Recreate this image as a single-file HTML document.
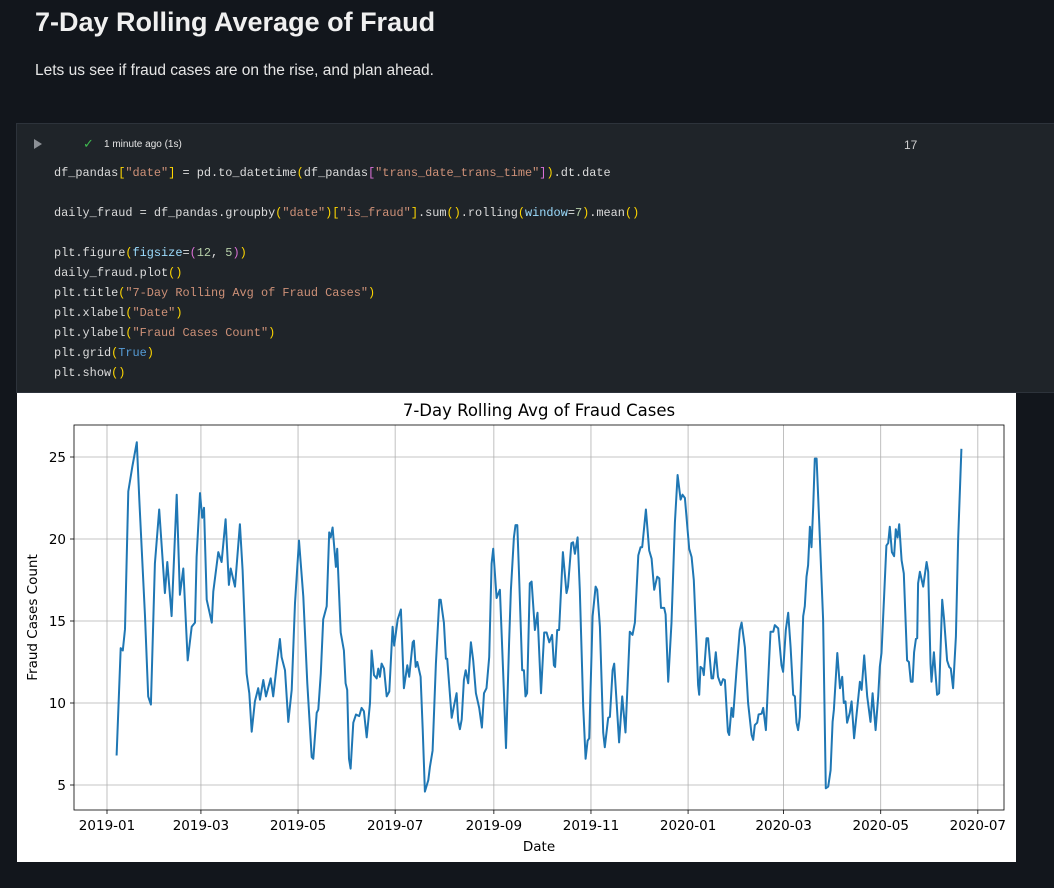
<!DOCTYPE html>
<html><head><meta charset="utf-8">
<style>
body{margin:0;width:1054px;height:888px;background:#12161c;overflow:hidden;font-family:"Liberation Sans",sans-serif;position:relative}
.h1{position:absolute;left:35px;top:7px;color:#f0f0f0;font-size:27px;font-weight:bold}
.sub{position:absolute;left:35px;top:62px;color:#e6e6e6;font-size:15.5px}
.cell{position:absolute;left:16px;top:123px;width:1040px;height:270px;background:#1f2429;border:1px solid #2d333b;box-sizing:border-box}
.code{position:absolute;left:54px;font-family:"Liberation Mono",monospace;font-size:11.9px;color:#dcdcdc;white-space:pre}
.s{color:#ce9178}.b{color:#ffd700}.p{color:#da70d6}.k{color:#569cd6}.f{color:#dcdcaa}.n{color:#9cdcfe}.num{color:#b5cea8}
.chartbox{position:absolute;left:17px;top:393px;width:999px;height:469px;background:#fff}
</style></head><body>
<div class="h1">7-Day Rolling Average of Fraud</div>
<div class="sub">Lets us see if fraud cases are on the rise, and plan ahead.</div>
<div class="cell">
  <div style="position:absolute;left:17px;top:15px;width:0;height:0;border-left:8px solid #8b8f95;border-top:5px solid transparent;border-bottom:5px solid transparent"></div>
  <div style="position:absolute;left:66px;top:12px;color:#3fb950;font-size:13px">✓</div>
  <div style="position:absolute;left:87px;top:15px;color:#e6e6e6;font-size:10px">1 minute ago (1s)</div>
  <div style="position:absolute;left:887px;top:14px;color:#cfcfcf;font-size:12px">17</div>
</div>
<div>
<div class="code" style="top:166px">df_pandas<span class="b">[</span><span class="s">"date"</span><span class="b">]</span> = pd.to_datetime<span class="b">(</span>df_pandas<span class="p">[</span><span class="s">"trans_date_trans_time"</span><span class="p">]</span><span class="b">)</span>.dt.date</div>
<div class="code" style="top:206px">daily_fraud = df_pandas.groupby<span class="b">(</span><span class="s">"date"</span><span class="b">)[</span><span class="s">"is_fraud"</span><span class="b">]</span>.sum<span class="b">()</span>.rolling<span class="b">(</span><span class="n">window</span>=<span class="num">7</span><span class="b">)</span>.mean<span class="b">()</span></div>
<div class="code" style="top:246px">plt.figure<span class="b">(</span><span class="n">figsize</span>=<span class="p">(</span><span class="num">12</span>, <span class="num">5</span><span class="p">)</span><span class="b">)</span></div>
<div class="code" style="top:266px">daily_fraud.plot<span class="b">()</span></div>
<div class="code" style="top:286px">plt.title<span class="b">(</span><span class="s">"7-Day Rolling Avg of Fraud Cases"</span><span class="b">)</span></div>
<div class="code" style="top:306px">plt.xlabel<span class="b">(</span><span class="s">"Date"</span><span class="b">)</span></div>
<div class="code" style="top:326px">plt.ylabel<span class="b">(</span><span class="s">"Fraud Cases Count"</span><span class="b">)</span></div>
<div class="code" style="top:346px">plt.grid<span class="b">(</span><span class="k">True</span><span class="b">)</span></div>
<div class="code" style="top:366px">plt.show<span class="b">()</span></div>
</div>
<div class="chartbox"></div>
<svg id="chart" width="1054" height="888" style="position:absolute;left:0;top:0"></svg>
<script>
const days=[6,8.6,9.9,11.3,13.4,15.9,18.7,20.3,23.9,25.9,27.6,30.1,32.8,36.4,37.9,40.6,43.8,45.8,47.9,50.7,53.2,55.3,56.3,58.4,59.8,60.9,62.6,65.8,66.8,69.9,72,74.5,76.6,77.7,80.4,83.5,85.2,87.7,89.4,90.9,92.9,95,96.1,98.2,99.9,102.8,104.4,107,108.6,109.7,111.8,113.9,116,118.1,120.6,123.3,125.8,128.6,129.6,131.7,132.7,134.3,135.8,138,139.6,140.5,141.7,143.8,144.6,146.8,148.8,149.9,150.9,152,153,154.7,156.4,158.4,159.9,161.4,163.1,165.2,166.2,167.7,169.4,170.4,171.4,172.5,174,175.7,177.3,179.4,180.4,182.6,184.6,186.5,188.6,189.8,192,192.8,193.9,194.9,197,198.3,199.7,201.8,202.8,204.5,206.6,208.7,209.6,211.6,212.9,213.7,216.5,217.9,219.6,220.6,221.7,222.8,224.2,225.3,226.9,228.6,230,231.7,233.8,235.5,236.8,238.4,240.1,241.6,242.6,244.7,246.8,248.9,250.6,252.6,253.7,255.6,256.6,257.7,258.7,260.8,261.9,262.9,263.9,265.6,266.7,268.8,270.4,272.6,274.6,276.1,277.8,279.6,280.7,281.5,282.8,284,286.4,288.6,289.6,291.7,292.8,293.9,295.6,297,299.1,300.6,301.9,302.9,305,306.9,307.9,309.6,311.7,312.7,314.8,315.9,317.6,318.6,321.7,323.6,325.7,328.4,330.1,331.6,333.7,335.2,336.2,338.5,340.6,342.1,343.7,345.6,346.9,348,350,350.9,352.5,354.6,356.7,358.4,360.3,361.5,363,365.7,367.2,368.6,370.3,371.3,372,372.8,374.1,374.9,376.6,377.6,379.7,380.7,382.4,383.8,385.6,387,388.1,390,390.8,392.3,393.3,395.4,397.5,398.6,400.7,402.7,404.9,405.9,406.9,408.4,409.3,411.2,412.2,413.9,415.3,416.8,418.5,419.5,421.6,423.7,424.7,426.4,427.9,429.4,431,432.1,433.1,434.1,435.2,437.3,438.3,439.4,440.4,441.5,442.5,443.6,444.6,445.7,447.3,449.8,451.5,453,454.5,455.8,456.6,458.7,460.4,461.8,462.8,463.9,464.9,466.6,467.7,469.3,471.8,472.9,474,475.6,477.5,479.6,480.9,482.8,484.4,485.4,486.5,488.1,489.6,490.7,491.7,493,494.4,495.5,496.6,497.6,499.1,500.5,502.6,503.7,504.9,506,507,508.1,508.9,509.5,510.6,512.7,514.8,515.8,517.3,517.9,519.4,521.4,522.7,524.6,525.8,527.7,529,530,531.5,533.2,534.6,536.7];
const fraudAvg=[6.8,13.35,13.2,14.5,22.9,24.4,25.9,22.4,15.3,10.4,9.9,18.5,21.8,16.7,18.6,15.3,22.7,16.6,18.2,12.6,14.65,14.9,18.9,22.8,21.3,21.9,16.3,14.9,16.8,19.2,18.6,21.2,17.2,18.2,17.1,20.9,18.1,11.8,10.6,8.25,10.1,10.9,10.2,11.4,10.4,11.5,10.4,12.6,13.9,12.8,12,8.85,10.8,16.1,19.9,16.5,11.2,6.7,6.6,9.4,9.6,11.8,15.1,15.9,20.4,20.1,20.7,18.3,19.4,14.3,13.2,11.2,10.8,6.6,6,8.8,9.3,9.2,9.7,9.5,7.9,10,13.2,11.7,11.5,12.1,11.6,12.4,12.1,10.4,10.7,14.65,13.5,15.1,15.7,10.9,12.3,11.6,13.7,13.8,12.2,12.5,11.6,8.4,4.6,5.3,6.1,7.1,12.4,16.3,16.3,14.9,12.7,12.7,9.1,9.8,10.6,8.9,8.4,9,11.4,12,11.2,13.7,12.6,10.6,9.7,8.5,10.6,10.9,12.8,18.5,19.4,16.4,16.9,11.8,7.25,13.7,16.9,20.1,20.85,20.85,18.1,12,12,10.4,10.6,17.3,17.4,14.45,15.5,10.6,14.3,14.3,13.7,14.15,12.3,12.2,14.45,14.45,19.2,16.7,17.1,19.75,19.8,19.1,20.1,16.9,9.8,6.6,7.7,7.85,15.3,17.1,16.9,14.65,8.2,7.3,9.1,9.15,12,12.4,7.6,10.4,8.2,14.35,14.15,14.9,19,19.5,19.5,21.8,19.3,18.8,16.9,17.7,17.6,15.8,15.8,15.4,11.3,14.9,21,23.9,22.4,22.7,22.5,19.4,18.9,17.5,13.65,11.1,10.5,12.2,12.1,11.7,13.95,13.95,11.5,11.5,13.1,11.6,11.1,11.45,11.4,8.25,8.05,9.7,9.15,12,14.45,14.9,13.4,10,8.05,7.75,8.65,8.8,9.3,9.35,9.7,8.35,11.4,14.35,14.35,14.75,14.55,12.3,11.9,14.45,15.5,13.4,10.5,10.4,8.8,8.35,9.15,15.3,15.9,17.7,18.4,20.75,19.5,21.95,24.9,24.9,21.2,15.1,4.8,4.9,5.9,8.85,9.6,13.05,10.9,11.6,10,10.1,8.8,9.4,10.1,7.85,10.2,11.3,10.8,12.9,10.4,8.85,10.6,8.35,10.4,12.2,13.05,16.5,19.6,19.75,20.75,19.2,18.95,20.6,20.1,20.9,18.7,17.9,12.6,12.5,11.3,11.3,13.1,13.9,13.95,17.3,18,17.1,18.6,18,12.4,11.3,13.1,10.5,10.6,16.3,15.1,12.6,12.2,12.1,10.9,14.05,19.9,25.5];
const xTickDays=[0,59,120,181,243,304,365,425,486,547];
const xTickLabels=["2019-01","2019-03","2019-05","2019-07","2019-09","2019-11","2020-01","2020-03","2020-05","2020-07"];
const yTicks=[5,10,15,20,25];

const svg=document.getElementById('chart');
const NS='http://www.w3.org/2000/svg';
const L=74,R=1004,T=425,B=810;
function xs(d){return 107+d*1.592;}
function ys(v){return 785-(v-5)*16.4;}
function mk(tag,attrs){const e=document.createElementNS(NS,tag);for(const k in attrs)e.setAttribute(k,attrs[k]);svg.appendChild(e);return e;}
xTickDays.forEach((d,i)=>{
  const x=xs(d);
  const g=mk('line',{x1:x,x2:x,y1:T,y2:B,stroke:'#b0b0b0','stroke-width':0.8});
  
  
  const t=mk('line',{x1:x,x2:x,y1:B,y2:B+4,stroke:'#000','stroke-width':0.8});
  
  
  const lb=mk('text',{x:x,y:B+20,'text-anchor':'middle','font-size':13.5,'font-family':'DejaVu Sans, Liberation Sans, sans-serif',fill:'#000'});
  lb.textContent=xTickLabels[i];
  
  
});
yTicks.forEach(v=>{
  const y=ys(v);
  const g=mk('line',{x1:L,x2:R,y1:y,y2:y,stroke:'#b0b0b0','stroke-width':0.8});
  
  
  const t=mk('line',{x1:L-4,x2:L,y1:y,y2:y,stroke:'#000','stroke-width':0.8});
  
  
  const lb=mk('text',{x:L-8,y:y+5,'text-anchor':'end','font-size':13.5,'font-family':'DejaVu Sans, Liberation Sans, sans-serif',fill:'#000'});
  lb.textContent=v;
  
  
});
const line=mk('polyline',{points:days.map((d,i)=>xs(d).toFixed(1)+','+ys(fraudAvg[i]).toFixed(1)).join(' '),fill:'none',stroke:'#1f77b4','stroke-width':2,'stroke-linejoin':'round'});


const frame=mk('rect',{x:L,y:T,width:R-L,height:B-T,fill:'none',stroke:'#000','stroke-width':0.8});


const title=mk('text',{x:(L+R)/2,y:416,'text-anchor':'middle','font-size':16.5,'font-family':'DejaVu Sans, Liberation Sans, sans-serif',fill:'#000'});
title.textContent='7-Day Rolling Avg of Fraud Cases';


const xl=mk('text',{x:(L+R)/2,y:851,'text-anchor':'middle','font-size':13.5,'font-family':'DejaVu Sans, Liberation Sans, sans-serif',fill:'#000'});
xl.textContent='Date';


const yl=mk('text',{x:37,y:(T+B)/2,'text-anchor':'middle','font-size':13.5,'font-family':'DejaVu Sans, Liberation Sans, sans-serif',fill:'#000',transform:'rotate(-90 37 '+((T+B)/2)+')'});
yl.textContent='Fraud Cases Count';


</script>
</body></html>
